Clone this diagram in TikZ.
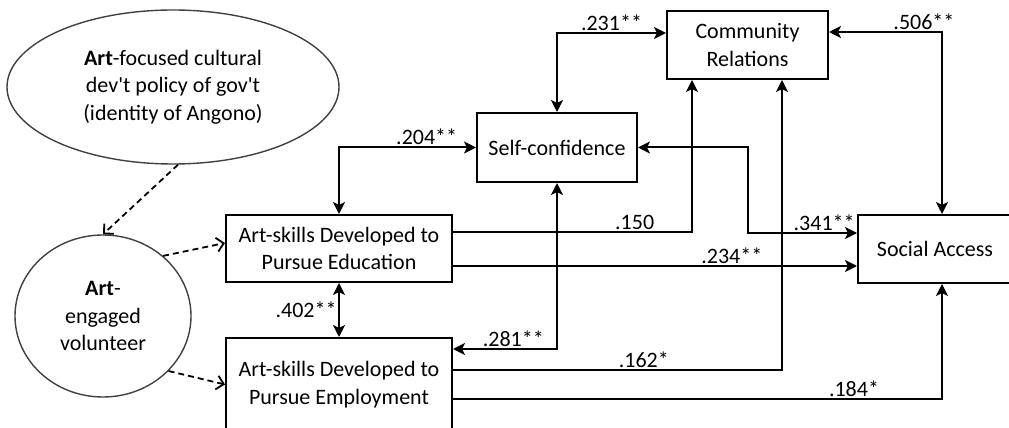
\documentclass[tikz,border=0pt]{standalone}
\usepackage{fontspec}
\setmainfont{Carlito}[Ligatures=TeXOff]
\usetikzlibrary{shapes.geometric,arrows.meta,positioning}

\begin{document}
\begin{tikzpicture}[
    x=1pt, y=1pt,
    font=\fontsize{22}{27.5}\selectfont,
    box/.style={rectangle, draw, line width=2pt, align=center, inner sep=0pt},
    oval/.style={ellipse, draw=black!75, line width=1.4pt, align=center, inner sep=0pt},
    arrow/.style={->, >={Stealth[length=12pt,width=12pt,inset=3pt]}, line width=2pt},
    twoway/.style={arrow, <->},
    dasharrow/.style={-{Straight Barb[length=7pt,width=14pt]}, line width=1.8pt, dash pattern=on 6pt off 4pt},
    coef/.style={inner sep=1.5pt}
]
\useasboundingbox (0,0) rectangle (1009,428);
\clip (0,0) rectangle (1009,428);

% Antecedents
\node[oval, minimum width=332pt, minimum height=154pt] (policy) at (173,341) {\textbf{Art}-focused cultural\\dev't policy of gov't\\(identity of Angono)};
\node[oval, minimum width=176pt, minimum height=162pt] (volunteer) at (103,112) {\textbf{Art}-\\engaged\\volunteer};

% Art-skills
\node[box, minimum width=226pt, minimum height=67pt] (edu) at (339,179.5) {Art-skills Developed to\\Pursue Education};
\node[box, minimum width=226pt, minimum height=93pt, below=54pt of edu] (emp) {Art-skills Developed to\\Pursue Employment};

% Outcomes
\node[box, minimum width=160pt, minimum height=69pt] (self) at (557,280.5) {Self-confidence};
\node[box, minimum width=161pt, minimum height=68pt] (comm) at (747.5,383) {Community\\Relations};
\node[box, minimum width=154pt, minimum height=68pt] (social) at (935,179) {Social Access};

% Dashed links
\draw[dasharrow] ([xshift=5pt]policy.south) -- (volunteer.north);
\draw[dasharrow] (volunteer.45) -- ([yshift=5.5pt]edu.west);
\draw[dasharrow] (volunteer.-40) -- (emp.west);

% Correlations
\draw[twoway] (self.north) |- ([yshift=12pt]comm.west) node[coef, pos=0.75, above] {.231**};
\draw[twoway] (self.west) -| (edu.north) node[coef, pos=0.18, above] {.204**};
\draw[twoway] ([yshift=13pt]comm.east) -| ([xshift=7pt]social.north) node[coef, pos=0.42, above] {.506**};
\coordinate (in341) at ([yshift=16pt]social.west);
\draw[twoway] (self.east) -| (comm.south |- in341) -- (in341) node[coef, pos=0.7, above] {.341**};
\draw[twoway] (self.south) |- ([yshift=35.5pt]emp.east) node[coef, pos=0.71, above] {.281**};
\draw[twoway] (edu.south) -- (emp.north) node[coef, midway, left] {.402**};

% Paths from the art-skills
\draw[arrow] ([yshift=16.5pt]edu.east) -| ([xshift=-55.5pt]comm.south) node[coef, pos=0.38, above] {.150};
\draw[arrow] ([yshift=-17.5pt]edu.east) coordinate (out234) -- (out234 -| social.west) node[coef, pos=0.69, above] {.234**};
\draw[arrow] ([yshift=14.5pt]emp.east) -| ([xshift=34.5pt]comm.south) node[coef, pos=0.29, above] {.162*};
\draw[arrow] ([yshift=-14.5pt]emp.east) -| ([xshift=7pt]social.south) node[coef, pos=0.41, above] {.184*};

\end{tikzpicture}
\end{document}
